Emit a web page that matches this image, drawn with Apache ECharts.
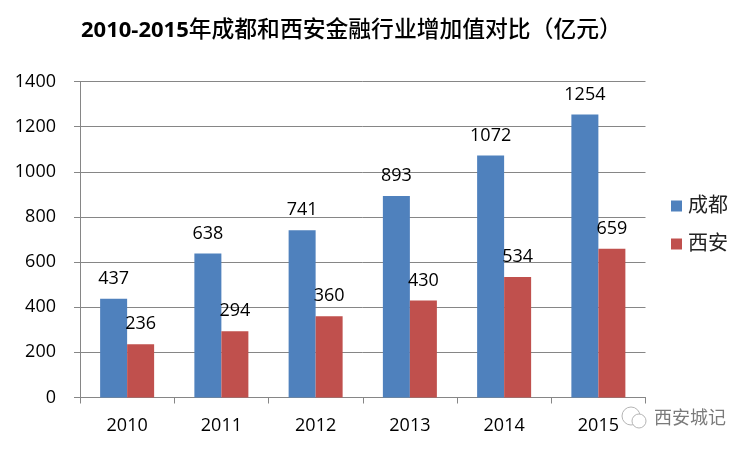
<!DOCTYPE html>
<html>
<head>
<meta charset="utf-8">
<style>
  html, body { margin: 0; padding: 0; background: #fff; }
  #main { width: 750px; height: 450px; }
</style>
<script src="https://cdn.jsdelivr.net/npm/echarts@6/dist/echarts.min.js"></script>
</head>
<body>
<div id="main"></div>
<script>
var years = ['2010', '2011', '2012', '2013', '2014', '2015']
var chengdu = [437, 638, 741, 893, 1072, 1254]
var xian = [236, 294, 360, 430, 534, 659]
var seriesNames = ['成都', '西安']
var titleYears = '2010-2015'
var titleRest = '年成都和西安金融行业增加值对比（亿元）'
var watermark = '西安城记'

var font = '"Open Sans", "Noto Sans CJK SC", sans-serif'
var axisGray = '#868686'

var myChart = echarts.init(document.getElementById('main'))
myChart.setOption({
  animation: false,
  backgroundColor: '#fff',
  textStyle: { fontFamily: font, color: '#000' },
  title: {
    left: 76,
    top: 14,
    text: '{a|' + titleYears + '}{b|' + titleRest + '}',
    textStyle: {
      rich: {
        a: { fontFamily: font, fontSize: 22, fontWeight: 'bold', color: '#000' },
        b: { fontFamily: font, fontSize: 22.8, fontWeight: 500, color: '#000' }
      }
    }
  },
  legend: {
    orient: 'vertical',
    left: 666,
    top: 191,
    icon: 'rect',
    itemWidth: 11,
    itemHeight: 11,
    itemGap: 18,
    data: seriesNames,
    textStyle: { fontSize: 20, color: '#222', padding: [0, 0, 0, 1] }
  },
  grid: { left: 80, right: 104.5, top: 81.5, bottom: 52.5 },
  xAxis: {
    type: 'category',
    data: years,
    axisLine: { lineStyle: { color: axisGray } },
    axisTick: { show: true, alignWithLabel: false, length: 6, lineStyle: { color: axisGray } },
    axisLabel: { fontSize: 18, color: '#000', margin: 19 }
  },
  yAxis: {
    type: 'value',
    min: 0,
    max: 1400,
    interval: 200,
    axisLine: { show: true, lineStyle: { color: axisGray } },
    axisTick: { show: true, length: 6, lineStyle: { color: axisGray } },
    splitLine: { lineStyle: { color: axisGray } },
    axisLabel: { fontSize: 18, color: '#000', margin: 24, formatter: function (v) { return String(v) } }
  },
  series: [
    {
      name: seriesNames[0],
      type: 'bar',
      barWidth: 27,
      barGap: 0,
      itemStyle: { color: '#4f81bd' },
      label: { show: true, position: 'top', distance: 11, fontSize: 18, color: '#000' },
      data: chengdu
    },
    {
      name: seriesNames[1],
      type: 'bar',
      barWidth: 27,
      itemStyle: { color: '#c0504d' },
      label: { show: true, position: 'top', distance: 11, fontSize: 18, color: '#000' },
      data: xian
    }
  ],
  graphic: [
    {
      type: 'text',
      left: 654,
      top: 408,
      style: { text: watermark, font: '18px "Noto Sans CJK SC"', fill: '#7a7a7a' }
    },
    {
      type: 'circle',
      shape: { cx: 631, cy: 416, r: 9 },
      style: { fill: 'none', stroke: '#b5b5b5', lineWidth: 1 }
    },
    {
      type: 'circle',
      shape: { cx: 639, cy: 421, r: 7 },
      style: { fill: '#fff', stroke: '#b5b5b5', lineWidth: 1 }
    }
  ]
})
</script>
</body>
</html>
